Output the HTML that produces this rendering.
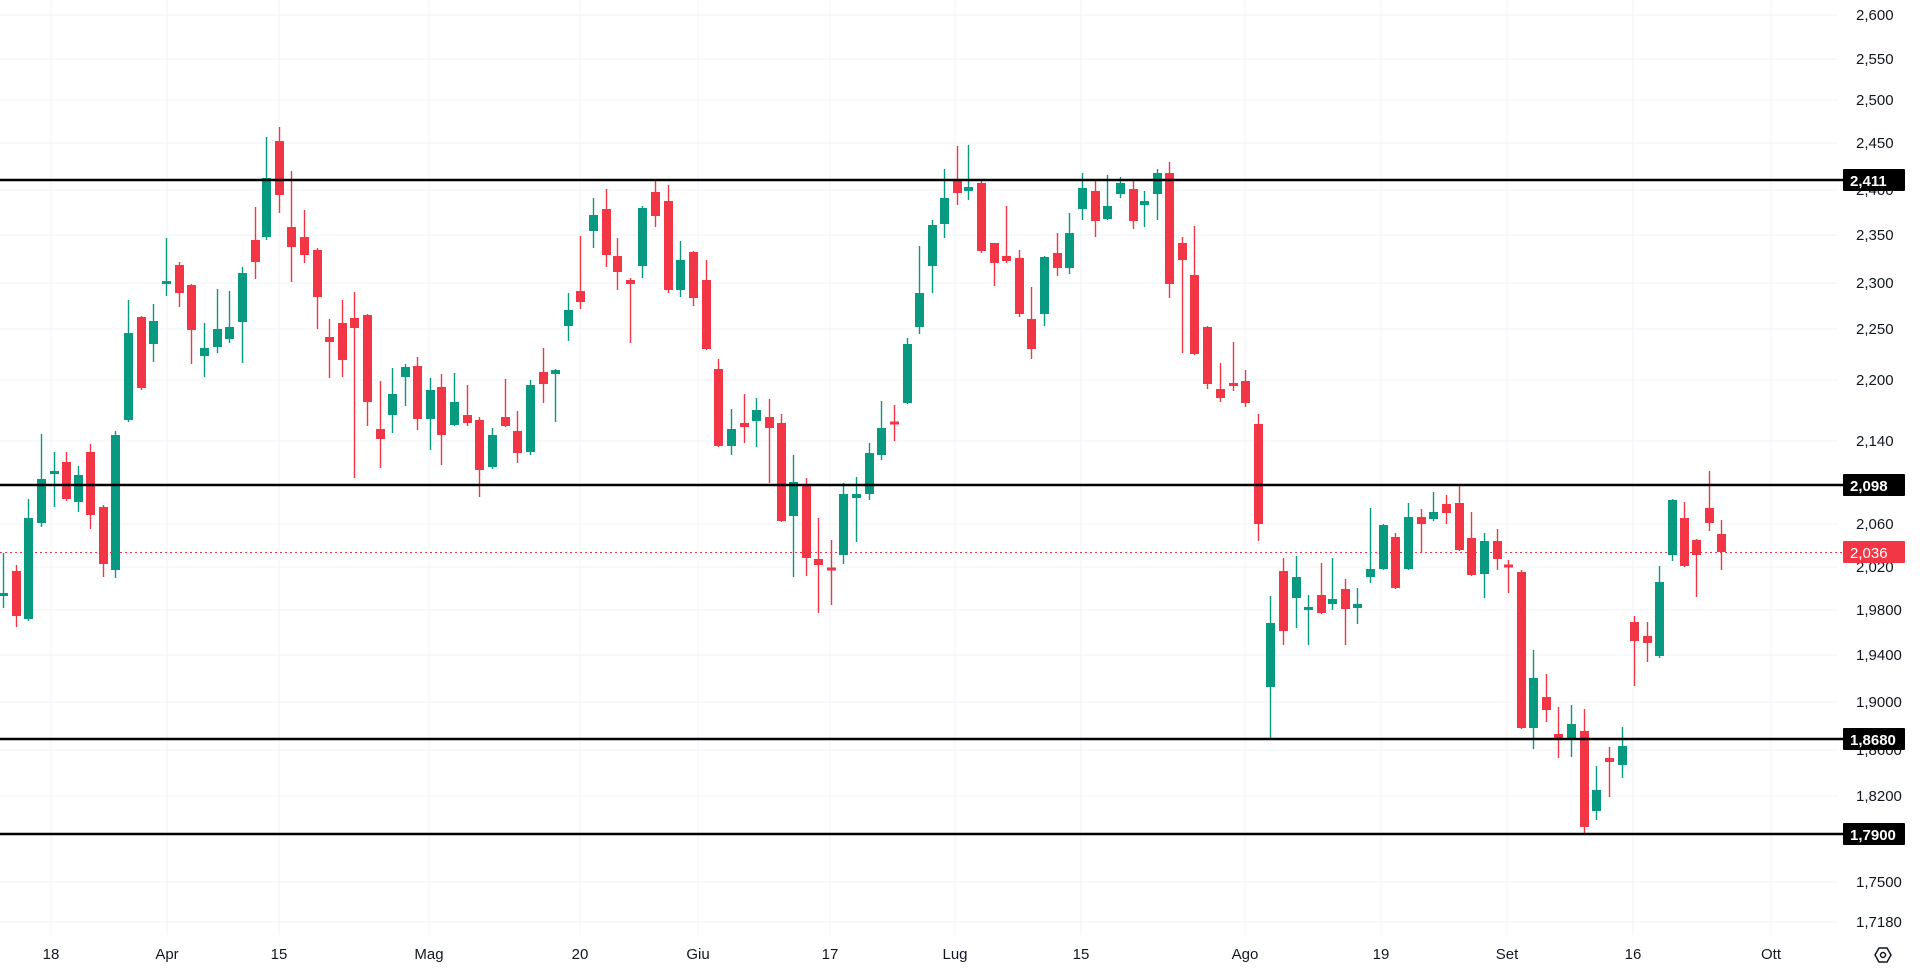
<!DOCTYPE html>
<html><head><meta charset="utf-8">
<style>
html,body{margin:0;padding:0;background:#fff;width:1920px;height:970px;overflow:hidden}
svg{display:block}
text{font-family:"Liberation Sans",sans-serif}
</style></head>
<body>
<svg id="c" width="1920" height="970" xmlns="http://www.w3.org/2000/svg"></svg>
<script>
var NS="http://www.w3.org/2000/svg",svg=document.getElementById('c');
function el(t,a,txt){var e=document.createElementNS(NS,t);for(var k in a)e.setAttribute(k,a[k]);if(txt!=null)e.textContent=txt;svg.appendChild(e);return e;}
el('rect',{x:0,y:0,width:1920,height:970,fill:'#fff'});
var yl=[[15,'2,600'],[59,'2,550'],[100,'2,500'],[143,'2,450'],[190,'2,400'],[235,'2,350'],[283,'2,300'],[329,'2,250'],[380,'2,200'],[441,'2,140'],[524,'2,060'],[567,'2,020'],[610,'1,9800'],[655,'1,9400'],[702,'1,9000'],[750,'1,8600'],[796,'1,8200'],[882,'1,7500'],[922,'1,7180']];
var xl=[[51,'18'],[167,'Apr'],[279,'15'],[429,'Mag'],[580,'20'],[698,'Giu'],[830,'17'],[955,'Lug'],[1081,'15'],[1245,'Ago'],[1381,'19'],[1507,'Set'],[1633,'16'],[1771,'Ott']];
yl.forEach(function(l){el('line',{x1:0,x2:1838,y1:l[0],y2:l[0],stroke:'#f0f3fa','stroke-width':1});});
xl.forEach(function(l){el('line',{x1:l[0],x2:l[0],y1:0,y2:935,stroke:'#f0f3fa','stroke-width':1});});
yl.forEach(function(l){el('text',{x:1856,y:l[0]+5,'font-size':15,fill:'#131722'},l[1]);});
xl.forEach(function(l){el('text',{x:l[0],y:959,'font-size':15,fill:'#131722','text-anchor':'middle'},l[1]);});
var d="g 3 593 596 553 608|r 16 571 616 565 627|g 28 518 619 499 621|g 41 479 523 434 527|g 54 471 474 452 507|r 66 462 499 452 501|g 78 475 502 466 512|r 90 452 515 444 529|r 103 507 564 505 577|g 115 435 570 431 578|g 128 333 420 300 422|r 141 317 388 316 390|g 153 321 344 304 362|g 166 281 284 238 296|r 179 265 293 262 307|r 191 285 330 284 364|g 204 348 356 323 377|g 217 329 347 289 353|g 229 327 339 291 343|g 242 273 322 267 363|r 255 240 262 207 279|g 266 178 237 137 240|r 279 141 195 127 213|r 291 227 247 171 282|r 304 237 255 210 263|r 317 250 297 248 329|r 329 337 342 319 378|r 342 323 360 300 377|r 354 318 328 292 478|r 367 315 402 314 426|r 380 429 439 381 468|g 392 394 415 368 433|g 405 367 377 364 406|r 417 366 419 357 430|g 430 390 419 378 450|r 441 387 435 374 465|g 454 402 425 373 426|r 467 415 423 385 426|r 479 420 470 417 497|g 492 435 467 428 469|r 505 417 426 379 427|r 517 431 453 411 463|g 530 385 452 380 455|r 543 372 384 348 403|g 555 370 374 369 422|g 568 310 326 293 341|r 580 291 302 236 309|g 593 215 231 198 248|r 606 209 255 189 267|r 617 256 272 238 290|r 630 280 284 278 343|g 642 208 266 206 278|r 655 192 216 181 227|r 668 201 290 185 293|g 680 260 290 241 297|r 693 252 298 251 306|r 706 280 349 260 350|r 718 369 446 359 447|g 731 429 446 409 455|r 744 423 427 394 443|g 756 410 421 398 447|r 769 417 428 399 483|r 781 423 521 414 522|g 793 482 516 455 577|r 806 485 558 478 576|r 818 559 565 518 613|r 831 568 570 540 605|g 843 494 555 483 564|g 856 494 498 477 542|g 869 453 494 443 500|g 881 428 455 401 460|r 894 422 424 405 441|g 907 344 403 338 404|g 919 293 327 246 334|g 932 225 266 220 293|g 944 198 224 169 238|r 957 181 193 146 205|g 968 187 191 145 200|r 981 183 251 180 253|r 994 243 263 243 286|r 1006 256 261 206 263|r 1019 258 314 250 317|r 1031 319 349 287 359|g 1044 257 314 256 326|r 1057 253 268 233 276|g 1069 233 268 213 274|g 1082 188 209 173 220|r 1095 191 221 180 237|g 1107 206 219 175 220|g 1120 183 194 177 198|r 1133 189 221 180 229|g 1144 201 205 191 227|g 1157 173 194 169 220|r 1169 173 284 162 298|r 1182 243 260 237 353|r 1194 275 354 226 355|r 1207 327 384 326 389|r 1220 389 398 363 402|r 1233 383 386 342 391|r 1245 381 403 370 407|r 1258 424 524 414 541|g 1270 623 687 596 739|r 1283 571 631 558 645|g 1296 577 598 556 628|g 1308 607 610 595 645|r 1321 595 613 563 614|g 1332 599 604 558 610|r 1345 589 609 579 645|g 1357 604 608 588 624|g 1370 569 577 508 583|g 1383 525 569 524 570|r 1395 537 588 533 589|g 1408 517 569 503 570|r 1421 517 524 509 553|g 1433 512 519 492 521|r 1446 504 513 495 524|r 1459 503 550 485 551|r 1471 538 575 512 576|g 1484 541 574 533 598|r 1497 541 559 529 570|r 1508 565 567 560 593|r 1521 572 728 570 729|g 1533 678 728 650 749|r 1546 697 710 674 722|r 1558 734 740 707 758|g 1571 724 739 705 757|r 1584 731 827 709 835|g 1596 790 811 766 820|r 1609 758 762 747 797|g 1622 746 765 727 778|r 1634 622 641 616 686|r 1647 636 643 622 662|g 1659 582 656 566 658|g 1672 500 555 499 561|r 1684 518 566 502 567|r 1696 540 555 539 597|r 1709 508 523 471 531|r 1721 534 552 520 570";
// current price dotted line
el('line',{x1:0,x2:1842,y1:552.5,y2:552.5,stroke:'#f23645','stroke-width':1,'stroke-dasharray':'2 3'});
d.split('|').forEach(function(s){var p=s.split(' ');var c=p[0]=='g'?'#089981':'#f23645';var x=+p[1],t=+p[2],b=+p[3],h=+p[4],l=+p[5];if(b-t<3){var m=(t+b)/2;t=m-1.5;b=m+1.5;}
el('line',{x1:x+0.5,x2:x+0.5,y1:h,y2:l,stroke:c,'stroke-width':1.4});
el('rect',{x:x-4,y:t,width:9,height:b-t,fill:c});});
// horizontal levels
[[180,'2,411'],[485,'2,098'],[739,'1,8680'],[834,'1,7900']].forEach(function(l){
el('line',{x1:0,x2:1843,y1:l[0],y2:l[0],stroke:'#000','stroke-width':2.4});
el('rect',{x:1843,y:l[0]-11,width:62,height:22,fill:'#000',rx:1});
el('text',{x:1850,y:l[0]+6,'font-size':15,fill:'#fff','font-weight':'bold'},l[1]);});
el('rect',{x:1843,y:541,width:62,height:22,fill:'#f23645',rx:1});
el('text',{x:1850,y:558,'font-size':15,fill:'#fff'},'2,036');
// settings icon
el('polygon',{points:'1875,955 1879,948 1887,948 1891,955 1887,962 1879,962',fill:'none',stroke:'#131722','stroke-width':1.5});
el('circle',{cx:1883,cy:955,r:2.5,fill:'none',stroke:'#131722','stroke-width':1.5});
</script>
</body></html>
